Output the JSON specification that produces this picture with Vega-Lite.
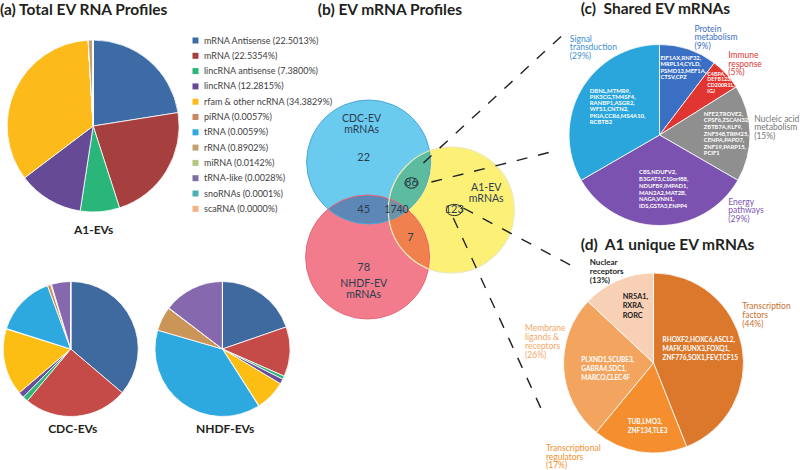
{
"$schema": "https://vega.github.io/schema/vega-lite/v6.json",
"width": 800, "height": 470, "padding": 0,
"autosize": {"type": "fit", "contains": "padding"},
"config": {"view": {"stroke": null}, "text": {"font": "Lato"}},
"datasets": {
 "a1": [
  {"k":1,"type":"mRNA Antisense","pct":22.5013},{"k":2,"type":"mRNA","pct":22.5354},{"k":3,"type":"lincRNA antisense","pct":7.38},{"k":4,"type":"lincRNA","pct":12.2815},{"k":5,"type":"rfam & other ncRNA","pct":34.3829},{"k":6,"type":"piRNA","pct":0.0057},{"k":7,"type":"tRNA","pct":0.0059},{"k":8,"type":"rRNA","pct":0.8902},{"k":9,"type":"miRNA","pct":0.0142},{"k":10,"type":"tRNA-like","pct":0.0028},{"k":11,"type":"snoRNAs","pct":0.0001},{"k":12,"type":"scaRNA","pct":0.0}
 ],
 "cdc": [
  {"k":1,"type":"mRNA Antisense","pct":36.2},{"k":2,"type":"mRNA","pct":24.9},{"k":3,"type":"lincRNA antisense","pct":1.3},{"k":4,"type":"lincRNA","pct":1.4},{"k":5,"type":"rfam & other ncRNA","pct":16.0},{"k":6,"type":"piRNA","pct":0.1},{"k":7,"type":"tRNA","pct":14.5},{"k":8,"type":"rRNA","pct":0.8},{"k":9,"type":"miRNA","pct":0.2},{"k":10,"type":"tRNA-like","pct":4.6},{"k":11,"type":"snoRNAs","pct":0.0},{"k":12,"type":"scaRNA","pct":0.0}
 ],
 "nhdf": [
  {"k":1,"type":"mRNA Antisense","pct":19.7},{"k":2,"type":"mRNA","pct":11.9},{"k":3,"type":"lincRNA antisense","pct":0.8},{"k":4,"type":"lincRNA","pct":1.2},{"k":5,"type":"rfam & other ncRNA","pct":7.3},{"k":6,"type":"piRNA","pct":0.1},{"k":7,"type":"tRNA","pct":38.5},{"k":8,"type":"rRNA","pct":5.8},{"k":9,"type":"miRNA","pct":0.1},{"k":10,"type":"tRNA-like","pct":14.6},{"k":11,"type":"snoRNAs","pct":0.0},{"k":12,"type":"scaRNA","pct":0.0}
 ],
 "shared": [
  {"k":1,"cat":"Protein metabolism","pct":9},{"k":2,"cat":"Immune response","pct":5},{"k":3,"cat":"Nucleic acid metabolism","pct":15},{"k":4,"cat":"Energy pathways","pct":29},{"k":5,"cat":"Signal transduction","pct":29}
 ],
 "unique": [
  {"k":1,"cat":"Transcription factors","pct":44},{"k":2,"cat":"Transcriptional regulators","pct":17},{"k":3,"cat":"Membrane ligands & receptors","pct":26},{"k":4,"cat":"Nuclear receptors","pct":13}
 ],
 "venn": [
  {"region":"CDC only","n":22},{"region":"CDC & NHDF","n":45},{"region":"all three","n":1740},{"region":"CDC & A1","n":86},{"region":"NHDF & A1","n":7},{"region":"A1 only","n":123},{"region":"NHDF only","n":78}
 ]
},
"resolve": {"scale": {"theta": "independent", "color": "independent"}},
"layer": [
 {"data":{"name":"a1"},"transform":[{"calculate":"datum.type + ' (' + format(datum.pct, '.4f') + '%)'","as":"label"}],
  "mark":{"type":"arc","outerRadius":86,"stroke":"#ffffff","strokeWidth":0.8},
  "encoding":{"theta":{"field":"pct","type":"quantitative"},"order":{"field":"k","type":"quantitative"},
   "color":{"field":"label","type":"nominal","sort":{"field":"k","op":"min"},"scale":{"range":["#3c6ba5","#a5403f","#2ab57a","#674a95","#fdbb1b","#c98a5e","#31a9df","#c4a070","#b3c780","#7d6fa0","#4aafb5","#f6b183"]},
    "legend":{"orient":"none","legendX":191,"legendY":36,"title":null,"symbolType":"square","symbolSize":36,"symbolStrokeWidth":0,"labelFontSize":9,"labelFont":"Lato","labelColor":"#404040","rowPadding":5.3,"padding":0,"labelOffset":4,"labelLimit":300}},
   "x":{"datum":93.5,"type":"quantitative","scale":{"domain":[0,800],"nice":false,"zero":false},"axis":null},
   "y":{"datum":126,"type":"quantitative","scale":{"domain":[0,470],"nice":false,"zero":false,"reverse":true},"axis":null}}},
 {"data":{"name":"cdc"},
  "mark":{"type":"arc","outerRadius":67.5,"stroke":"#ffffff","strokeWidth":0.8},
  "encoding":{"theta":{"field":"pct","type":"quantitative"},"order":{"field":"k","type":"quantitative"},
   "color":{"field":"type","type":"nominal","scale":{"domain":["mRNA Antisense","mRNA","lincRNA antisense","lincRNA","rfam & other ncRNA","piRNA","tRNA","rRNA","miRNA","tRNA-like","snoRNAs","scaRNA"],"range":["#3f6aa0","#c44b47","#2fb676","#6a4d9b","#fdbe14","#c98a5e","#2ea9e0","#cc9558","#b3c780","#8668af","#4aafb5","#f6b183"]},"legend":null},
   "x":{"datum":71,"type":"quantitative","scale":{"domain":[0,800],"nice":false,"zero":false},"axis":null},
   "y":{"datum":349,"type":"quantitative","scale":{"domain":[0,470],"nice":false,"zero":false,"reverse":true},"axis":null}}},
 {"data":{"name":"nhdf"},
  "mark":{"type":"arc","outerRadius":67.5,"stroke":"#ffffff","strokeWidth":0.8},
  "encoding":{"theta":{"field":"pct","type":"quantitative"},"order":{"field":"k","type":"quantitative"},
   "color":{"field":"type","type":"nominal","scale":{"domain":["mRNA Antisense","mRNA","lincRNA antisense","lincRNA","rfam & other ncRNA","piRNA","tRNA","rRNA","miRNA","tRNA-like","snoRNAs","scaRNA"],"range":["#3f6aa0","#c44b47","#2fb676","#6a4d9b","#fdbe14","#c98a5e","#2ea9e0","#cc9558","#b3c780","#8668af","#4aafb5","#f6b183"]},"legend":null},
   "x":{"datum":223.3,"type":"quantitative","scale":{"domain":[0,800],"nice":false,"zero":false},"axis":null},
   "y":{"datum":349,"type":"quantitative","scale":{"domain":[0,470],"nice":false,"zero":false,"reverse":true},"axis":null}}},
 {"data":{"name":"shared"},
  "mark":{"type":"arc","outerRadius":90.5,"stroke":"#ffffff","strokeWidth":0.8},
  "encoding":{"theta":{"field":"pct","type":"quantitative"},"order":{"field":"k","type":"quantitative"},
   "color":{"field":"cat","type":"nominal","scale":{"domain":["Protein metabolism","Immune response","Nucleic acid metabolism","Energy pathways","Signal transduction"],"range":["#3a6fc4","#e03530","#8f8f8f","#7c52b0","#2aa6dc"]},"legend":null},
   "x":{"datum":662,"type":"quantitative","scale":{"domain":[0,800],"nice":false,"zero":false},"axis":null},
   "y":{"datum":135,"type":"quantitative","scale":{"domain":[0,470],"nice":false,"zero":false,"reverse":true},"axis":null}}},
 {"data":{"name":"unique"},
  "mark":{"type":"arc","outerRadius":90,"stroke":"#ffffff","strokeWidth":0.8},
  "encoding":{"theta":{"field":"pct","type":"quantitative"},"order":{"field":"k","type":"quantitative"},
   "color":{"field":"cat","type":"nominal","scale":{"domain":["Transcription factors","Transcriptional regulators","Membrane ligands & receptors","Nuclear receptors"],"range":["#dc782c","#f48e2e","#f3a45f","#f7d0b5"]},"legend":null},
   "x":{"datum":656,"type":"quantitative","scale":{"domain":[0,800],"nice":false,"zero":false},"axis":null},
   "y":{"datum":363,"type":"quantitative","scale":{"domain":[0,470],"nice":false,"zero":false,"reverse":true},"axis":null}}},

 {"data":{"values":[{"set":"CDC-EV"}]},"mark":{"type":"point","shape":"circle","filled":true,"size":15376,"fill":"#6bcbef","strokeWidth":0,"opacity":1},
  "encoding":{"x":{"datum":370,"type":"quantitative","scale":{"domain":[0,800],"nice":false,"zero":false},"axis":null},"y":{"datum":162,"type":"quantitative","scale":{"domain":[0,470],"nice":false,"zero":false,"reverse":true},"axis":null}}},
 {"data":{"values":[{"set":"NHDF-EV"}]},"mark":{"type":"point","shape":"circle","filled":true,"size":15376,"fill":"#f27c8c","strokeWidth":0,"opacity":1},
  "encoding":{"x":{"datum":369,"type":"quantitative","scale":{"domain":[0,800],"nice":false,"zero":false},"axis":null},"y":{"datum":257,"type":"quantitative","scale":{"domain":[0,470],"nice":false,"zero":false,"reverse":true},"axis":null}}},
 {"data":{"values":[{"set":"A1-EV"}]},"mark":{"type":"point","shape":"circle","filled":true,"size":15876,"fill":"#fcf176","strokeWidth":0,"opacity":1},
  "encoding":{"x":{"datum":453,"type":"quantitative","scale":{"domain":[0,800],"nice":false,"zero":false},"axis":null},"y":{"datum":210,"type":"quantitative","scale":{"domain":[0,470],"nice":false,"zero":false,"reverse":true},"axis":null}}},
 {"data":{"values":[{"overlap":"CDC & NHDF"}]},"mark":{"type":"point","shape":"M -39.85 -0.42 A 62 62 0 0 1 39.85 0.42 A 62 62 0 0 1 -39.85 -0.42 Z","filled":true,"size":4,"fill":"#5d87b6","strokeWidth":0,"opacity":1},
  "encoding":{"x":{"datum":369.5,"type":"quantitative","scale":{"domain":[0,800],"nice":false,"zero":false},"axis":null},"y":{"datum":209.5,"type":"quantitative","scale":{"domain":[0,470],"nice":false,"zero":false,"reverse":true},"axis":null}}},
 {"data":{"values":[{"overlap":"CDC & A1"}]},"mark":{"type":"point","shape":"M 20.07 -34.71 A 63 63 0 0 0 -20.07 34.71 A 62 62 0 0 0 20.07 -34.71 Z","filled":true,"size":4,"fill":"#5dbb9f","strokeWidth":0,"opacity":1},
  "encoding":{"x":{"datum":410.94,"type":"quantitative","scale":{"domain":[0,800],"nice":false,"zero":false},"axis":null},"y":{"datum":185.67,"type":"quantitative","scale":{"domain":[0,470],"nice":false,"zero":false,"reverse":true},"axis":null}}},
 {"data":{"values":[{"overlap":"NHDF & A1"}]},"mark":{"type":"point","shape":"M -19.47 -34.79 A 63 63 0 0 0 19.47 34.79 A 62 62 0 0 0 -19.47 -34.79 Z","filled":true,"size":4,"fill":"#f0804d","strokeWidth":0,"opacity":1},
  "encoding":{"x":{"datum":410.44,"type":"quantitative","scale":{"domain":[0,800],"nice":false,"zero":false},"axis":null},"y":{"datum":233.82,"type":"quantitative","scale":{"domain":[0,470],"nice":false,"zero":false,"reverse":true},"axis":null}}},
 {"data":{"values":[{"overlap":"all three"}]},"mark":{"type":"point","shape":"M -6.03 -10.97 A 62 62 0 0 1 12.35 -0.08 A 62 62 0 0 1 -6.13 10.38 A 63 63 0 0 1 -6.03 -10.97 Z","filled":true,"size":4,"fill":"#6d93a8","strokeWidth":0,"opacity":1},
  "encoding":{"x":{"datum":397,"type":"quantitative","scale":{"domain":[0,800],"nice":false,"zero":false},"axis":null},"y":{"datum":210,"type":"quantitative","scale":{"domain":[0,470],"nice":false,"zero":false,"reverse":true},"axis":null}}},
 {"data":{"values":[{"set":"CDC-EV"}]},"mark":{"type":"point","shape":"circle","filled":false,"size":15376,"stroke":"#49a8d6","strokeWidth":1,"opacity":1},
  "encoding":{"x":{"datum":370,"type":"quantitative","scale":{"domain":[0,800],"nice":false,"zero":false},"axis":null},"y":{"datum":162,"type":"quantitative","scale":{"domain":[0,470],"nice":false,"zero":false,"reverse":true},"axis":null}}},
 {"data":{"values":[{"set":"NHDF-EV"}]},"mark":{"type":"point","shape":"circle","filled":false,"size":15376,"stroke":"#e8667a","strokeWidth":1,"opacity":1},
  "encoding":{"x":{"datum":369,"type":"quantitative","scale":{"domain":[0,800],"nice":false,"zero":false},"axis":null},"y":{"datum":257,"type":"quantitative","scale":{"domain":[0,470],"nice":false,"zero":false,"reverse":true},"axis":null}}},
 {"data":{"values":[{"set":"A1-EV"}]},"mark":{"type":"point","shape":"circle","filled":false,"size":15876,"stroke":"#ece8b8","strokeWidth":1.2,"opacity":1},
  "encoding":{"x":{"datum":453,"type":"quantitative","scale":{"domain":[0,800],"nice":false,"zero":false},"axis":null},"y":{"datum":210,"type":"quantitative","scale":{"domain":[0,470],"nice":false,"zero":false,"reverse":true},"axis":null}}},

 {"data":{"values":[{}]},"mark":{"type":"rule","strokeDash":[11,11],"strokeWidth":1.4,"color":"#222222"},
  "encoding":{"x":{"datum":425,"type":"quantitative","scale":{"domain":[0,800],"nice":false,"zero":false},"axis":null},"y":{"datum":163,"type":"quantitative","scale":{"domain":[0,470],"nice":false,"zero":false,"reverse":true},"axis":null},"x2":{"datum":567},"y2":{"datum":33}}},
 {"data":{"values":[{}]},"mark":{"type":"rule","strokeDash":[11,11],"strokeWidth":1.4,"color":"#222222"},
  "encoding":{"x":{"datum":433,"type":"quantitative","scale":{"domain":[0,800],"nice":false,"zero":false},"axis":null},"y":{"datum":182,"type":"quantitative","scale":{"domain":[0,470],"nice":false,"zero":false,"reverse":true},"axis":null},"x2":{"datum":553},"y2":{"datum":152}}},
 {"data":{"values":[{}]},"mark":{"type":"rule","strokeDash":[11,11],"strokeWidth":1.4,"color":"#222222"},
  "encoding":{"x":{"datum":465,"type":"quantitative","scale":{"domain":[0,800],"nice":false,"zero":false},"axis":null},"y":{"datum":208,"type":"quantitative","scale":{"domain":[0,470],"nice":false,"zero":false,"reverse":true},"axis":null},"x2":{"datum":578},"y2":{"datum":268}}},
 {"data":{"values":[{}]},"mark":{"type":"rule","strokeDash":[11,11],"strokeWidth":1.4,"color":"#222222"},
  "encoding":{"x":{"datum":455,"type":"quantitative","scale":{"domain":[0,800],"nice":false,"zero":false},"axis":null},"y":{"datum":218,"type":"quantitative","scale":{"domain":[0,470],"nice":false,"zero":false,"reverse":true},"axis":null},"x2":{"datum":547},"y2":{"datum":417}}},

 {"data":{"values":[{}]},"mark":{"type":"point","shape":"M -1 0 A 1 0.8 0 1 0 1 0 A 1 0.8 0 1 0 -1 0 Z","filled":false,"size":169,"stroke":"#222222","strokeWidth":1,"opacity":1},
  "encoding":{"x":{"datum":413,"type":"quantitative","scale":{"domain":[0,800],"nice":false,"zero":false},"axis":null},"y":{"datum":183,"type":"quantitative","scale":{"domain":[0,470],"nice":false,"zero":false,"reverse":true},"axis":null}}},
 {"data":{"values":[{}]},"mark":{"type":"point","shape":"M -1 0 A 1 0.7 0 1 0 1 0 A 1 0.7 0 1 0 -1 0 Z","filled":false,"size":256,"stroke":"#222222","strokeWidth":1,"opacity":1},
  "encoding":{"x":{"datum":456,"type":"quantitative","scale":{"domain":[0,800],"nice":false,"zero":false},"axis":null},"y":{"datum":210,"type":"quantitative","scale":{"domain":[0,470],"nice":false,"zero":false,"reverse":true},"axis":null}}},

 {"data":{"name":"venn"},"transform":[{"filter":"datum.region == 'CDC only'"}],"mark":{"type":"text","fontSize":11,"color":"#2b3d4f"},
  "encoding":{"text":{"field":"n"},"x":{"datum":365,"type":"quantitative","scale":{"domain":[0,800],"nice":false,"zero":false},"axis":null},"y":{"datum":158,"type":"quantitative","scale":{"domain":[0,470],"nice":false,"zero":false,"reverse":true},"axis":null}}},
 {"data":{"name":"venn"},"transform":[{"filter":"datum.region == 'CDC & NHDF'"}],"mark":{"type":"text","fontSize":11,"color":"#2b3d4f"},
  "encoding":{"text":{"field":"n"},"x":{"datum":365,"type":"quantitative","scale":{"domain":[0,800],"nice":false,"zero":false},"axis":null},"y":{"datum":210,"type":"quantitative","scale":{"domain":[0,470],"nice":false,"zero":false,"reverse":true},"axis":null}}},
 {"data":{"name":"venn"},"transform":[{"filter":"datum.region == 'all three'"}],"mark":{"type":"text","fontSize":10.5,"color":"#2b3d4f"},
  "encoding":{"text":{"field":"n"},"x":{"datum":398,"type":"quantitative","scale":{"domain":[0,800],"nice":false,"zero":false},"axis":null},"y":{"datum":210,"type":"quantitative","scale":{"domain":[0,470],"nice":false,"zero":false,"reverse":true},"axis":null}}},
 {"data":{"name":"venn"},"transform":[{"filter":"datum.region == 'CDC & A1'"}],"mark":{"type":"text","fontSize":11,"color":"#2b3d4f"},
  "encoding":{"text":{"field":"n"},"x":{"datum":413,"type":"quantitative","scale":{"domain":[0,800],"nice":false,"zero":false},"axis":null},"y":{"datum":183,"type":"quantitative","scale":{"domain":[0,470],"nice":false,"zero":false,"reverse":true},"axis":null}}},
 {"data":{"name":"venn"},"transform":[{"filter":"datum.region == 'NHDF & A1'"}],"mark":{"type":"text","fontSize":11,"color":"#2b3d4f"},
  "encoding":{"text":{"field":"n"},"x":{"datum":412,"type":"quantitative","scale":{"domain":[0,800],"nice":false,"zero":false},"axis":null},"y":{"datum":238,"type":"quantitative","scale":{"domain":[0,470],"nice":false,"zero":false,"reverse":true},"axis":null}}},
 {"data":{"name":"venn"},"transform":[{"filter":"datum.region == 'A1 only'"}],"mark":{"type":"text","fontSize":11,"color":"#2b3d4f"},
  "encoding":{"text":{"field":"n"},"x":{"datum":456,"type":"quantitative","scale":{"domain":[0,800],"nice":false,"zero":false},"axis":null},"y":{"datum":210,"type":"quantitative","scale":{"domain":[0,470],"nice":false,"zero":false,"reverse":true},"axis":null}}},
 {"data":{"name":"venn"},"transform":[{"filter":"datum.region == 'NHDF only'"}],"mark":{"type":"text","fontSize":11,"color":"#2b3d4f"},
  "encoding":{"text":{"field":"n"},"x":{"datum":365,"type":"quantitative","scale":{"domain":[0,800],"nice":false,"zero":false},"axis":null},"y":{"datum":268,"type":"quantitative","scale":{"domain":[0,470],"nice":false,"zero":false,"reverse":true},"axis":null}}},

 {"data":{"values":[{}]},"mark":{"type":"text","text":["CDC-EV","mRNAs"],"fontSize":10.5,"lineHeight":10.5,"baseline":"top","color":"#2b3d4f"},
  "encoding":{"x":{"datum":363,"type":"quantitative","scale":{"domain":[0,800],"nice":false,"zero":false},"axis":null},"y":{"datum":114,"type":"quantitative","scale":{"domain":[0,470],"nice":false,"zero":false,"reverse":true},"axis":null}}},
 {"data":{"values":[{}]},"mark":{"type":"text","text":["NHDF-EV","mRNAs"],"fontSize":10.5,"lineHeight":10.5,"baseline":"top","color":"#2b3d4f"},
  "encoding":{"x":{"datum":365,"type":"quantitative","scale":{"domain":[0,800],"nice":false,"zero":false},"axis":null},"y":{"datum":279,"type":"quantitative","scale":{"domain":[0,470],"nice":false,"zero":false,"reverse":true},"axis":null}}},
 {"data":{"values":[{}]},"mark":{"type":"text","text":["A1-EV","mRNAs"],"fontSize":10.5,"lineHeight":10.5,"baseline":"top","color":"#2b3d4f"},
  "encoding":{"x":{"datum":488,"type":"quantitative","scale":{"domain":[0,800],"nice":false,"zero":false},"axis":null},"y":{"datum":183,"type":"quantitative","scale":{"domain":[0,470],"nice":false,"zero":false,"reverse":true},"axis":null}}},

 {"data":{"values":[{}]},"mark":{"type":"text","text":"(a) Total EV RNA Profiles","fontSize":15.5,"fontWeight":"bold","align":"left","color":"#231f20"},
  "encoding":{"x":{"datum":0,"type":"quantitative","scale":{"domain":[0,800],"nice":false,"zero":false},"axis":null},"y":{"datum":10,"type":"quantitative","scale":{"domain":[0,470],"nice":false,"zero":false,"reverse":true},"axis":null}}},
 {"data":{"values":[{}]},"mark":{"type":"text","text":"(b) EV mRNA Profiles","fontSize":15.5,"fontWeight":"bold","align":"left","color":"#231f20"},
  "encoding":{"x":{"datum":319,"type":"quantitative","scale":{"domain":[0,800],"nice":false,"zero":false},"axis":null},"y":{"datum":10,"type":"quantitative","scale":{"domain":[0,470],"nice":false,"zero":false,"reverse":true},"axis":null}}},
 {"data":{"values":[{}]},"mark":{"type":"text","text":"(c)\u00a0 Shared EV mRNAs","fontSize":15.5,"fontWeight":"bold","align":"left","color":"#231f20"},
  "encoding":{"x":{"datum":583,"type":"quantitative","scale":{"domain":[0,800],"nice":false,"zero":false},"axis":null},"y":{"datum":9,"type":"quantitative","scale":{"domain":[0,470],"nice":false,"zero":false,"reverse":true},"axis":null}}},
 {"data":{"values":[{}]},"mark":{"type":"text","text":"(d)\u00a0 A1 unique EV mRNAs","fontSize":15.5,"fontWeight":"bold","align":"left","color":"#231f20"},
  "encoding":{"x":{"datum":583,"type":"quantitative","scale":{"domain":[0,800],"nice":false,"zero":false},"axis":null},"y":{"datum":245,"type":"quantitative","scale":{"domain":[0,470],"nice":false,"zero":false,"reverse":true},"axis":null}}},

 {"data":{"values":[{}]},"mark":{"type":"text","text":"A1-EVs","fontSize":12,"fontWeight":"bold","color":"#231f20"},
  "encoding":{"x":{"datum":94,"type":"quantitative","scale":{"domain":[0,800],"nice":false,"zero":false},"axis":null},"y":{"datum":230,"type":"quantitative","scale":{"domain":[0,470],"nice":false,"zero":false,"reverse":true},"axis":null}}},
 {"data":{"values":[{}]},"mark":{"type":"text","text":"CDC-EVs","fontSize":12,"fontWeight":"bold","color":"#231f20"},
  "encoding":{"x":{"datum":73,"type":"quantitative","scale":{"domain":[0,800],"nice":false,"zero":false},"axis":null},"y":{"datum":429,"type":"quantitative","scale":{"domain":[0,470],"nice":false,"zero":false,"reverse":true},"axis":null}}},
 {"data":{"values":[{}]},"mark":{"type":"text","text":"NHDF-EVs","fontSize":12,"fontWeight":"bold","color":"#231f20"},
  "encoding":{"x":{"datum":226,"type":"quantitative","scale":{"domain":[0,800],"nice":false,"zero":false},"axis":null},"y":{"datum":429,"type":"quantitative","scale":{"domain":[0,470],"nice":false,"zero":false,"reverse":true},"axis":null}}},

 {"data":{"values":[{}]},"mark":{"type":"text","text":["Signal","transduction","(29%)"],"fontSize":8.5,"lineHeight":8.6,"align":"left","baseline":"top","color":"#3d8fcf"},
  "encoding":{"x":{"datum":572,"type":"quantitative","scale":{"domain":[0,800],"nice":false,"zero":false},"axis":null},"y":{"datum":34.5,"type":"quantitative","scale":{"domain":[0,470],"nice":false,"zero":false,"reverse":true},"axis":null}}},
 {"data":{"values":[{}]},"mark":{"type":"text","text":["Protein","metabolism","(9%)"],"fontSize":8.5,"lineHeight":8.6,"align":"left","baseline":"top","color":"#3a6fbf"},
  "encoding":{"x":{"datum":697,"type":"quantitative","scale":{"domain":[0,800],"nice":false,"zero":false},"axis":null},"y":{"datum":24.5,"type":"quantitative","scale":{"domain":[0,470],"nice":false,"zero":false,"reverse":true},"axis":null}}},
 {"data":{"values":[{}]},"mark":{"type":"text","text":["Immune","response","(5%)"],"fontSize":8.5,"lineHeight":8.6,"align":"left","baseline":"top","color":"#d83a36"},
  "encoding":{"x":{"datum":731,"type":"quantitative","scale":{"domain":[0,800],"nice":false,"zero":false},"axis":null},"y":{"datum":51.2,"type":"quantitative","scale":{"domain":[0,470],"nice":false,"zero":false,"reverse":true},"axis":null}}},
 {"data":{"values":[{}]},"mark":{"type":"text","text":["Nucleic acid","metabolism","(15%)"],"fontSize":8.5,"lineHeight":8.8,"align":"left","baseline":"top","color":"#777777"},
  "encoding":{"x":{"datum":757,"type":"quantitative","scale":{"domain":[0,800],"nice":false,"zero":false},"axis":null},"y":{"datum":114.5,"type":"quantitative","scale":{"domain":[0,470],"nice":false,"zero":false,"reverse":true},"axis":null}}},
 {"data":{"values":[{}]},"mark":{"type":"text","text":["Energy","pathways","(29%)"],"fontSize":8.5,"lineHeight":8.6,"align":"left","baseline":"top","color":"#7d55b0"},
  "encoding":{"x":{"datum":731,"type":"quantitative","scale":{"domain":[0,800],"nice":false,"zero":false},"axis":null},"y":{"datum":197.9,"type":"quantitative","scale":{"domain":[0,470],"nice":false,"zero":false,"reverse":true},"axis":null}}},

 {"data":{"values":[{}]},"mark":{"type":"text","text":["EIF1AX,RNF32,","MRPL14,CYLD,","PSMD13,MEF1A,","CTSV,CPZ"],"fontSize":5.8,"fontWeight":"bold","lineHeight":6.4,"align":"left","baseline":"top","color":"#ffffff"},
  "encoding":{"x":{"datum":663,"type":"quantitative","scale":{"domain":[0,800],"nice":false,"zero":false},"axis":null},"y":{"datum":54.8,"type":"quantitative","scale":{"domain":[0,470],"nice":false,"zero":false,"reverse":true},"axis":null}}},
 {"data":{"values":[{}]},"mark":{"type":"text","text":["C4BPA,","DEFB123,","CD200R1L,","IGJ"],"fontSize":5.3,"fontWeight":"bold","lineHeight":5.9,"align":"left","baseline":"top","color":"#ffffff"},
  "encoding":{"x":{"datum":710,"type":"quantitative","scale":{"domain":[0,800],"nice":false,"zero":false},"axis":null},"y":{"datum":71.5,"type":"quantitative","scale":{"domain":[0,470],"nice":false,"zero":false,"reverse":true},"axis":null}}},
 {"data":{"values":[{}]},"mark":{"type":"text","text":["DBNL,MTMR9,","PIK3CG,TM4SF4,","RANBP1,ASGR2,","WFS1,CNTN2,","PKIA,CCR6,MS4A10,","RCBTB2"],"fontSize":5.9,"fontWeight":"bold","lineHeight":6.3,"align":"left","baseline":"top","color":"#ffffff"},
  "encoding":{"x":{"datum":592,"type":"quantitative","scale":{"domain":[0,800],"nice":false,"zero":false},"axis":null},"y":{"datum":87.5,"type":"quantitative","scale":{"domain":[0,470],"nice":false,"zero":false,"reverse":true},"axis":null}}},
 {"data":{"values":[{}]},"mark":{"type":"text","text":["NFE2,TROVE2,","CPSF6,ZSCAN32,","ZBTB7A,KLF9,","ZNF548,TRIM25,","CENPA,PAPD7,","ZNF19,PARP15,","PCIF1"],"fontSize":5.8,"fontWeight":"bold","lineHeight":6.6,"align":"left","baseline":"top","color":"#ffffff"},
  "encoding":{"x":{"datum":706.5,"type":"quantitative","scale":{"domain":[0,800],"nice":false,"zero":false},"axis":null},"y":{"datum":110.8,"type":"quantitative","scale":{"domain":[0,470],"nice":false,"zero":false,"reverse":true},"axis":null}}},
 {"data":{"values":[{}]},"mark":{"type":"text","text":["CBS,NDUFV2,","B3GAT3,C10orf88,","NDUFB9,IMPAD1,","MAN2A2,MAT2B,","NAGA,VNN1,","IDS,GSTA3,ENPP4"],"fontSize":5.8,"fontWeight":"bold","lineHeight":6.8,"align":"left","baseline":"top","color":"#ffffff"},
  "encoding":{"x":{"datum":641.5,"type":"quantitative","scale":{"domain":[0,800],"nice":false,"zero":false},"axis":null},"y":{"datum":169.2,"type":"quantitative","scale":{"domain":[0,470],"nice":false,"zero":false,"reverse":true},"axis":null}}},

 {"data":{"values":[{}]},"mark":{"type":"text","text":["Nuclear","receptors","(13%)"],"fontSize":8,"fontWeight":"bold","lineHeight":8.8,"align":"left","baseline":"top","color":"#222222"},
  "encoding":{"x":{"datum":592,"type":"quantitative","scale":{"domain":[0,800],"nice":false,"zero":false},"axis":null},"y":{"datum":259,"type":"quantitative","scale":{"domain":[0,470],"nice":false,"zero":false,"reverse":true},"axis":null}}},
 {"data":{"values":[{}]},"mark":{"type":"text","text":["Transcription","factors","(44%)"],"fontSize":8.5,"lineHeight":9,"align":"left","baseline":"top","color":"#c8702f"},
  "encoding":{"x":{"datum":745,"type":"quantitative","scale":{"domain":[0,800],"nice":false,"zero":false},"axis":null},"y":{"datum":302,"type":"quantitative","scale":{"domain":[0,470],"nice":false,"zero":false,"reverse":true},"axis":null}}},
 {"data":{"values":[{}]},"mark":{"type":"text","text":["Membrane","ligands &","receptors","(26%)"],"fontSize":8.5,"lineHeight":9,"align":"left","baseline":"top","color":"#f4a766"},
  "encoding":{"x":{"datum":527,"type":"quantitative","scale":{"domain":[0,800],"nice":false,"zero":false},"axis":null},"y":{"datum":324,"type":"quantitative","scale":{"domain":[0,470],"nice":false,"zero":false,"reverse":true},"axis":null}}},
 {"data":{"values":[{}]},"mark":{"type":"text","text":["Transcriptional","regulators","(17%)"],"fontSize":8.5,"lineHeight":8.5,"align":"left","baseline":"top","color":"#f0902f"},
  "encoding":{"x":{"datum":548,"type":"quantitative","scale":{"domain":[0,800],"nice":false,"zero":false},"axis":null},"y":{"datum":444,"type":"quantitative","scale":{"domain":[0,470],"nice":false,"zero":false,"reverse":true},"axis":null}}},

 {"data":{"values":[{}]},"mark":{"type":"text","text":["NR5A1,","RXRA,","RORC"],"fontSize":7.3,"fontWeight":"bold","lineHeight":9.3,"align":"left","baseline":"top","color":"#1a1a1a"},
  "encoding":{"x":{"datum":625,"type":"quantitative","scale":{"domain":[0,800],"nice":false,"zero":false},"axis":null},"y":{"datum":293,"type":"quantitative","scale":{"domain":[0,470],"nice":false,"zero":false,"reverse":true},"axis":null}}},
 {"data":{"values":[{}]},"mark":{"type":"text","text":["RHOXF2,HOXC6,ASCL2,","MAFK,RUNX3,FOXQ1,","ZNF776,SOX1,FEV,TCF15"],"fontSize":6.5,"fontWeight":"bold","lineHeight":9.2,"align":"left","baseline":"top","color":"#ffffff"},
  "encoding":{"x":{"datum":665,"type":"quantitative","scale":{"domain":[0,800],"nice":false,"zero":false},"axis":null},"y":{"datum":337,"type":"quantitative","scale":{"domain":[0,470],"nice":false,"zero":false,"reverse":true},"axis":null}}},
 {"data":{"values":[{}]},"mark":{"type":"text","text":["PLXND1,SCUBE3,","GABRA4,SDC1,","MARCO,CLEC4F"],"fontSize":6.5,"fontWeight":"bold","lineHeight":9.2,"align":"left","baseline":"top","color":"#ffffff"},
  "encoding":{"x":{"datum":583.5,"type":"quantitative","scale":{"domain":[0,800],"nice":false,"zero":false},"axis":null},"y":{"datum":357,"type":"quantitative","scale":{"domain":[0,470],"nice":false,"zero":false,"reverse":true},"axis":null}}},
 {"data":{"values":[{}]},"mark":{"type":"text","text":["TUB,LMO3,","ZNF134,TLE3"],"fontSize":6.5,"fontWeight":"bold","lineHeight":8.5,"align":"left","baseline":"top","color":"#ffffff"},
  "encoding":{"x":{"datum":630,"type":"quantitative","scale":{"domain":[0,800],"nice":false,"zero":false},"axis":null},"y":{"datum":419,"type":"quantitative","scale":{"domain":[0,470],"nice":false,"zero":false,"reverse":true},"axis":null}}}
]
}
